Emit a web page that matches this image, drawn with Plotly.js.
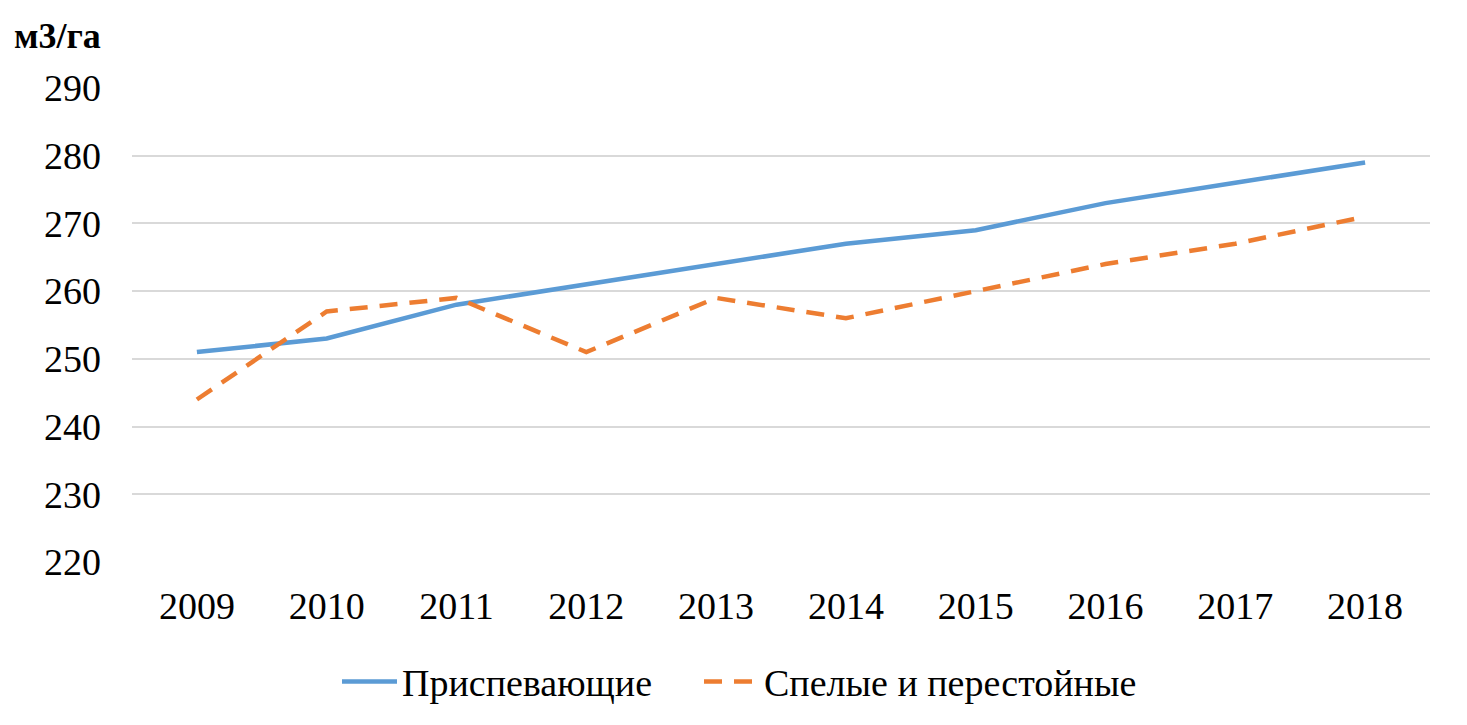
<!DOCTYPE html>
<html>
<head>
<meta charset="utf-8">
<script src="https://cdn.plot.ly/plotly-3.0.1.min.js"></script>
<style>html,body{margin:0;padding:0;background:#fff;}#chart{width:1467px;height:725px;}</style>
</head>
<body>
<div id="chart"></div>
<script>
const years = ["2009","2010","2011","2012","2013","2014","2015","2016","2017","2018"];
const maturing = [251,253,258,261,264,267,269,273,276,279];
const matureOvermature = [244,257,259,251,259,256,260,264,267,271];
const seriesNames = ["Приспевающие","Спелые и перестойные"];
const unitLabel = "м3/га";

const FONT = 'Liberation Serif';
const PW = 1298, PH = 479;

const traces = [
  {x: years, y: maturing, name: seriesNames[0], type: 'scatter', mode: 'lines',
   line: {color: '#5B9BD5', width: 4.5}, legend: 'legend'},
  {x: years, y: matureOvermature, name: seriesNames[1], type: 'scatter', mode: 'lines',
   line: {color: '#ED7D31', width: 4.5, dash: '18px,12px'}, legend: 'legend2'}
];

const legendBase = {orientation: 'h', yanchor: 'middle', y: (567 - 688) / PH, xanchor: 'left',
  font: {family: FONT, size: 38, color: '#000'}, itemwidth: 55, bgcolor: 'rgba(0,0,0,0)'};

const layout = {
  width: 1467, height: 725,
  margin: {l: 132, r: 37, t: 88, b: 158},
  paper_bgcolor: '#fff', plot_bgcolor: '#fff',
  font: {family: FONT, size: 38, color: '#000'},
  showlegend: true,
  legend: Object.assign({}, legendBase, {x: (345 - 8 - 132) / PW}),
  legend2: Object.assign({}, legendBase, {x: (707 - 8 - 132) / PW}),
  xaxis: {type: 'category', range: [-0.5, 9.5], showgrid: false, zeroline: false,
          showline: false, ticks: '', ticklabelstandoff: 18, fixedrange: true,
          tickfont: {family: FONT, size: 38}},
  yaxis: {range: [220, 290], dtick: 10, tick0: 220, showgrid: true, gridcolor: '#d9d9d9',
          gridwidth: 2, zeroline: false, showline: false, ticks: '', ticklabelstandoff: 30,
          tickfont: {family: FONT, size: 38}},
  annotations: [{text: '<b>' + unitLabel + '</b>', xref: 'paper', yref: 'paper',
    x: -132/PW + 12/PW, xanchor: 'left', y: 1 + 53/PH, yanchor: 'middle',
    showarrow: false, font: {size: 36, family: FONT}}]
};

Plotly.newPlot('chart', traces, layout, {displayModeBar: false, staticPlot: true});
</script>
</body>
</html>
